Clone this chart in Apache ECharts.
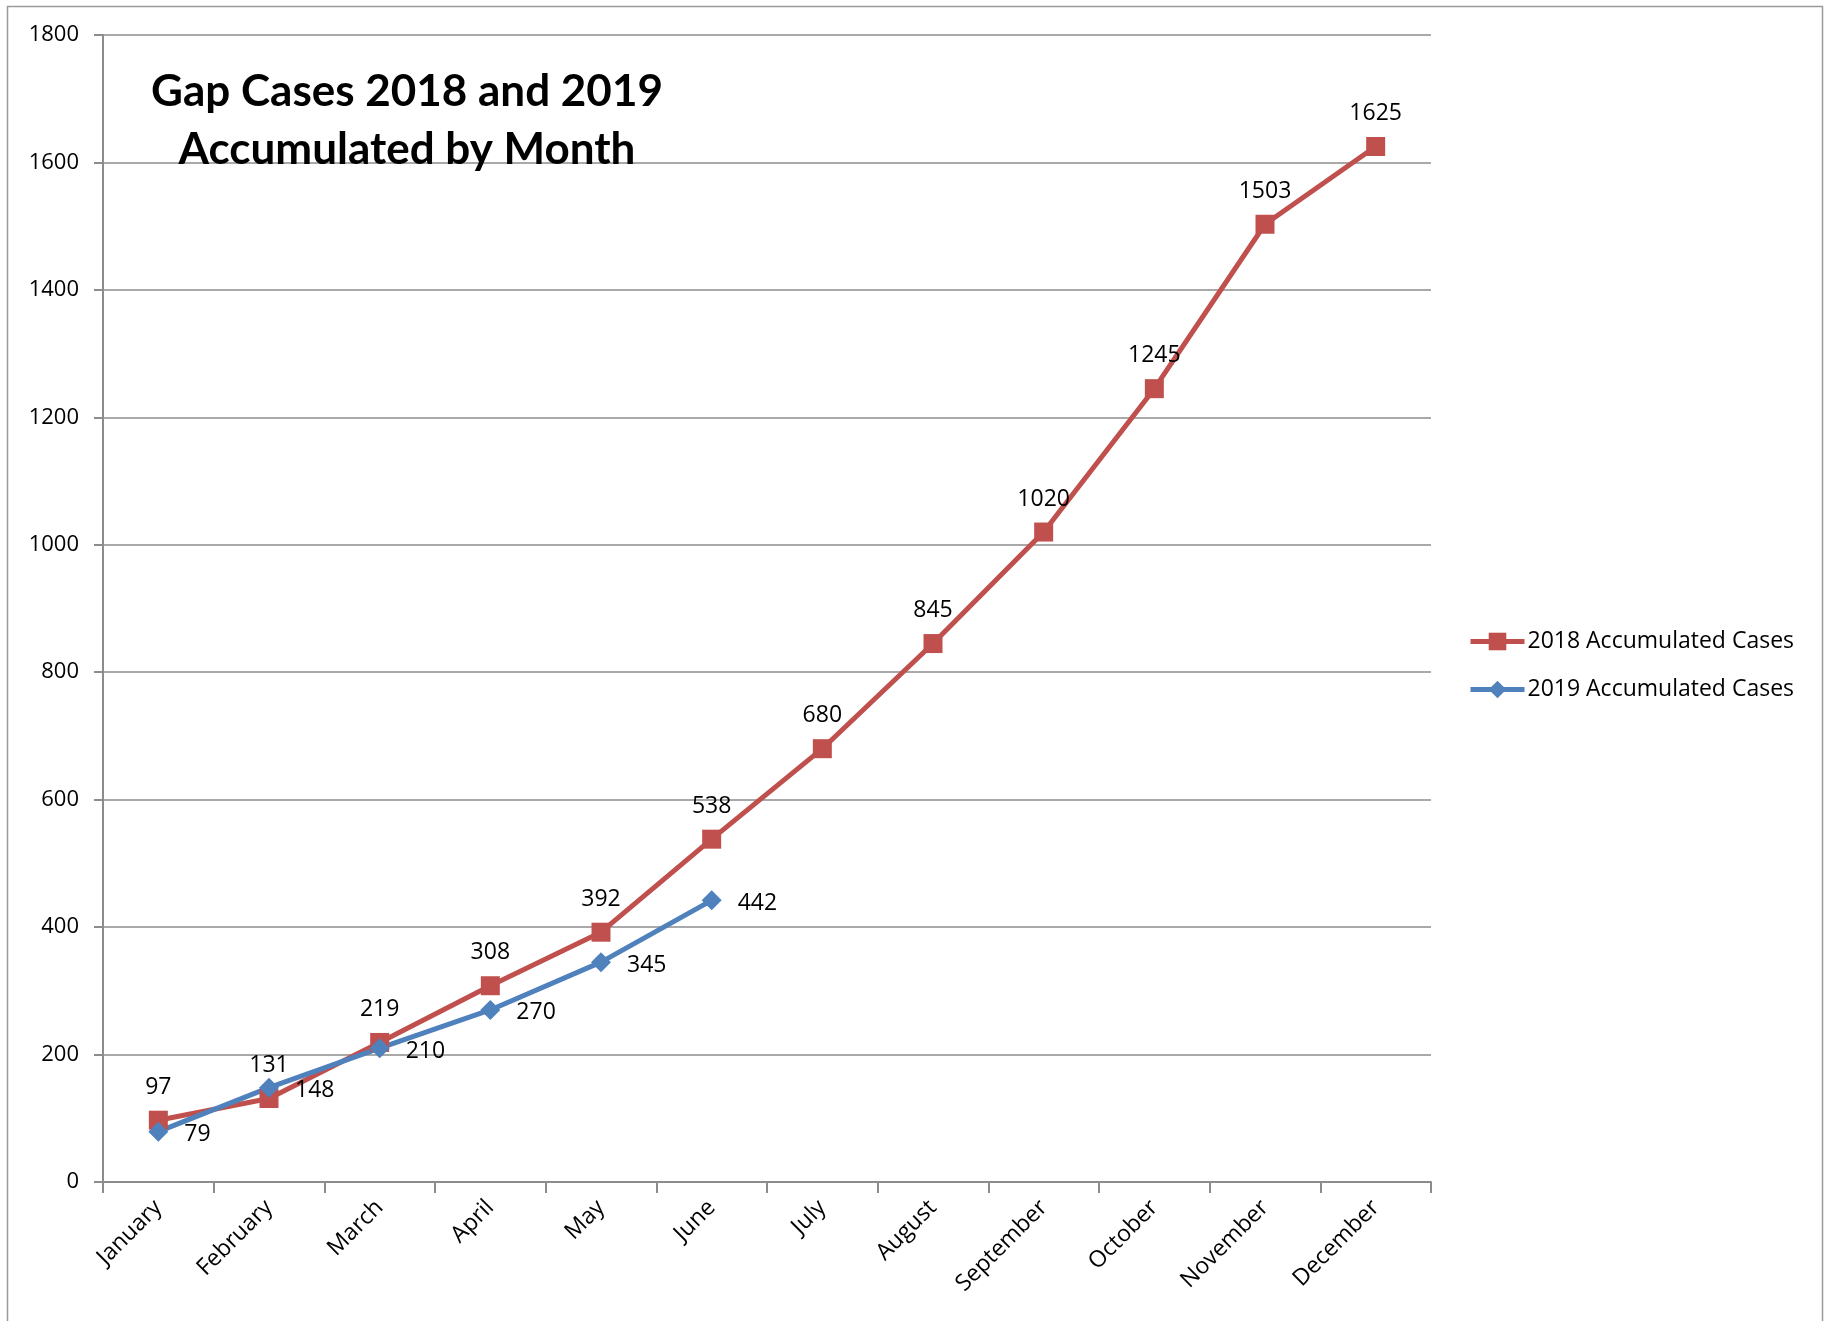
<!DOCTYPE html>
<html>
<head>
<meta charset="utf-8">
<script src="https://cdn.jsdelivr.net/npm/echarts@6/dist/echarts.min.js"></script>
<style>
html,body{margin:0;padding:0;background:#fff;}
#chart{width:1834px;height:1321px;}
</style>
</head>
<body>
<div id="chart"></div>
<script>
const months = ['January','February','March','April','May','June','July','August','September','October','November','December'];
const cases2018 = [97,131,219,308,392,538,680,845,1020,1245,1503,1625];
const cases2019 = [79,148,210,270,345,442];
const yTicks = {min:0, max:1800, interval:200};
const seriesNames = ['2018 Accumulated Cases','2019 Accumulated Cases'];
const titleLines = ['Gap Cases 2018 and 2019','Accumulated by Month'];

const FONT = '"Open Sans", "Liberation Sans", sans-serif';
const RED = '#C0504D';
const BLUE = '#4F81BD';
const GRID = '#8C8C8C';

const chart = echarts.init(document.getElementById('chart'));
chart.setOption({
  animation:false,
  backgroundColor:'#fff',
  title:{
    text: titleLines.join('\n'),
    left:402, top:58,
    textAlign:'center',
    textStyle:{fontFamily:'Lato, "Open Sans", sans-serif', fontWeight:'bold', fontSize:44, color:'#000', lineHeight:58}
  },
  graphic:[{
    type:'rect', silent:true,
    shape:{x:7.5, y:6.5, width:1815, height:1400},
    style:{fill:'none', stroke:'#9a9a9a', lineWidth:1.5}
  }],
  legend:{
    orient:'vertical',
    left:1463, top:625,
    itemWidth:54, itemHeight:22, itemGap:25,
    lineStyle:{width:5},
    textStyle:{fontFamily:FONT, fontSize:23, color:'#000', padding:[0,0,0,-2]},
    data:seriesNames
  },
  grid:{left:103, top:35, width:1328, height:1147, containLabel:false, outerBoundsMode:'none'},
  xAxis:{
    type:'category', data:months, boundaryGap:true,
    axisLine:{lineStyle:{color:GRID, width:2}},
    axisTick:{show:true, length:11, lineStyle:{color:GRID, width:2}},
    axisLabel:{rotate:45, margin:22, fontFamily:FONT, fontSize:23, color:'#000', interval:0}
  },
  yAxis:{
    type:'value', min:yTicks.min, max:yTicks.max, interval:yTicks.interval,
    axisLine:{show:true, lineStyle:{color:GRID, width:2}},
    axisTick:{show:true, length:9, lineStyle:{color:GRID, width:2}},
    splitLine:{show:true, lineStyle:{color:GRID, width:1.5}},
    axisLabel:{margin:24, fontFamily:FONT, fontSize:22, color:'#000', formatter:function(v){return String(v);}}
  },
  series:[
    {
      name:seriesNames[0], type:'line', data:cases2018,
      symbol:'rect', symbolSize:19,
      lineStyle:{color:RED, width:5},
      itemStyle:{color:RED},
      label:{show:true, position:'top', distance:12, fontFamily:FONT, fontSize:23, color:'#000'}
    },
    {
      name:seriesNames[1], type:'line', data:cases2019,
      symbol:'diamond', symbolSize:20,
      lineStyle:{color:BLUE, width:5},
      itemStyle:{color:BLUE},
      label:{show:true, position:'right', distance:16, offset:[0,3], fontFamily:FONT, fontSize:23, color:'#000'}
    }
  ]
});
</script>
</body>
</html>
